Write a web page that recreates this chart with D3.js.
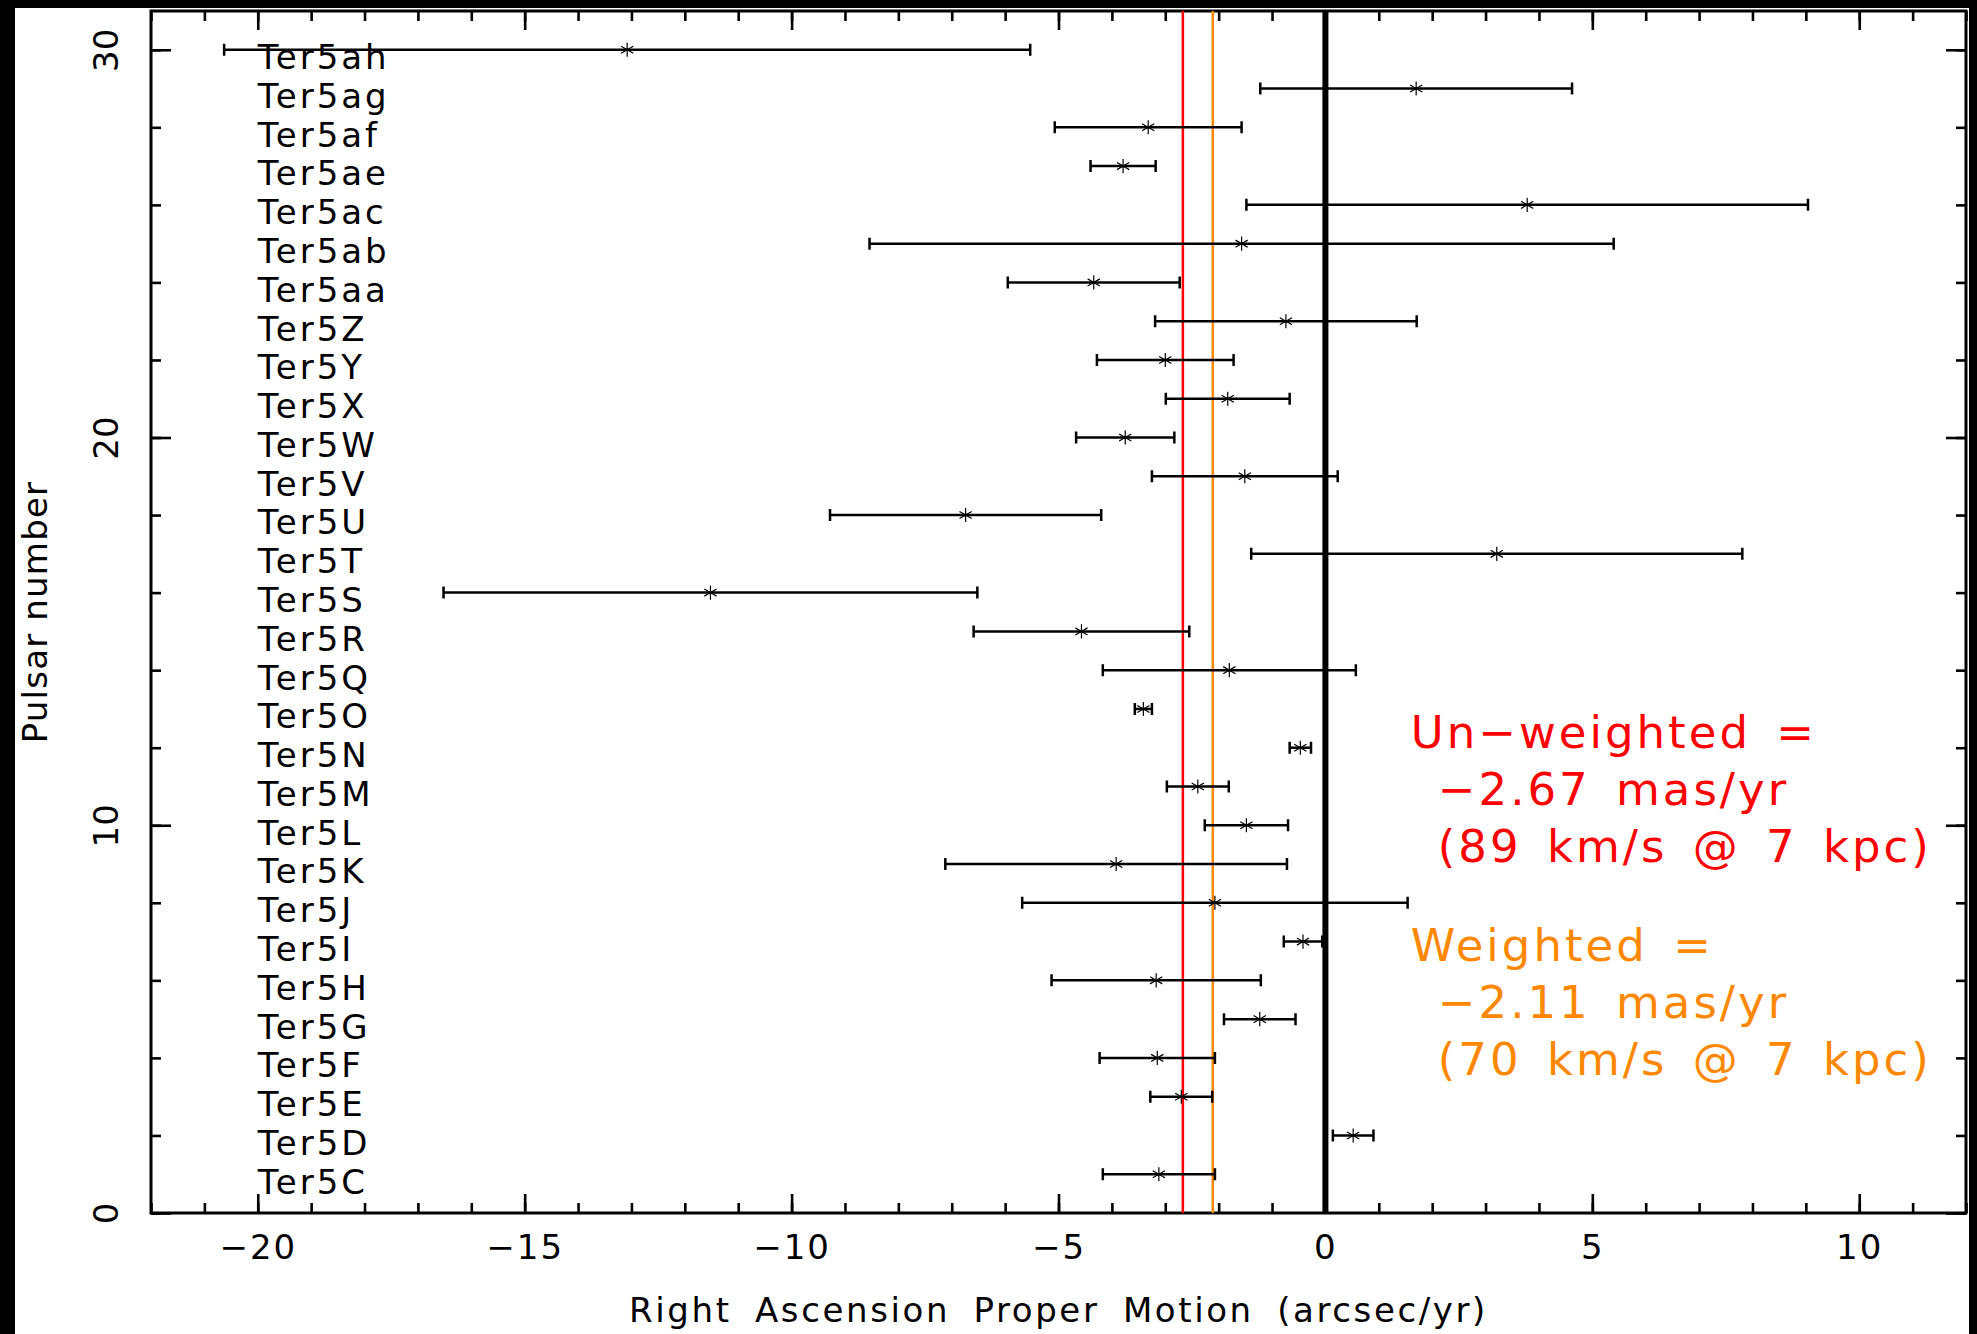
<!DOCTYPE html>
<html>
<head>
<meta charset="utf-8">
<script src="https://cdn.jsdelivr.net/npm/d3@7"></script>
<style>
  body { margin: 0; background: #000; }
  text { font-family: "DejaVu Sans", sans-serif; }
</style>
</head>
<body>
<svg width="1977" height="1334"></svg>
<script>
// pulsars, plotted at number 1..30 from the bottom
var pulsars = ["Ter5C", "Ter5D", "Ter5E", "Ter5F", "Ter5G", "Ter5H", "Ter5I", "Ter5J", "Ter5K", "Ter5L",
               "Ter5M", "Ter5N", "Ter5O", "Ter5Q", "Ter5R", "Ter5S", "Ter5T", "Ter5U", "Ter5V", "Ter5W",
               "Ter5X", "Ter5Y", "Ter5Z", "Ter5aa", "Ter5ab", "Ter5ac", "Ter5ae", "Ter5af", "Ter5ag", "Ter5ah"];
// right ascension proper motion and its 1-sigma error
var motion = [-3.12, 0.52, -2.70, -3.15, -1.23, -3.17, -0.42, -2.07, -3.92, -1.48,
              -2.39, -0.47, -3.41, -1.80, -4.57, -11.52, 3.21, -6.74, -1.51, -3.75,
              -1.83, -3.00, -0.74, -4.34, -1.57, 3.78, -3.79, -3.32, 1.70, -13.08];
var motionErr = [1.05, 0.38, 0.58, 1.08, 0.67, 1.96, 0.36, 3.61, 3.20, 0.78,
                 0.58, 0.20, 0.16, 2.37, 2.02, 5.00, 4.60, 2.54, 1.74, 0.92,
                 1.16, 1.28, 2.45, 1.61, 6.97, 5.26, 0.61, 1.75, 2.92, 7.55];

var xMajor = [-20, -15, -10, -5, 0, 5, 10];
var yMajor = [0, 10, 20, 30];

var unweighted = -2.67, weighted = -2.11;
var unweightedText = ["Un\u2212weighted =", "\u22122.67 mas/yr", "(89 km/s @ 7 kpc)"];
var weightedText = ["Weighted =", "\u22122.11 mas/yr", "(70 km/s @ 7 kpc)"];

var svg = d3.select("svg"),
    width = +svg.attr("width"),
    height = +svg.attr("height");
var margin = {top: 11, right: 11, bottom: 121, left: 151};

var x = d3.scaleLinear().domain([-22, 12]).range([margin.left, width - margin.right]);
var y = d3.scaleLinear().domain([0, 31]).range([height - margin.bottom, margin.top]);
var fmt = function(d) { return d < 0 ? "\u2212" + Math.abs(d) : "" + d; };

// black frame round a white page
svg.append("rect").attr("width", width).attr("height", height).attr("fill", "#000");
svg.append("rect").attr("x", 15).attr("y", 8).attr("width", width - 23).attr("height", height - 8).attr("fill", "#fff");

// axes: majors, minors, all four sides, ticks inward
function ticks(axis, vals, size, tx, ty) {
  var g = svg.append("g")
    .attr("transform", "translate(" + tx + "," + ty + ")")
    .call(axis.tickValues(vals).tickSize(size).tickPadding(22).tickFormat(""));
  g.select(".domain").remove();
  g.selectAll("line").attr("stroke", "#000").attr("stroke-width", 2.6);
  return g;
}
var x0 = margin.left, x1 = width - margin.right, y0 = height - margin.bottom, y1 = margin.top;
ticks(d3.axisBottom(x), d3.range(-22, 13), -10, 0, y0);
ticks(d3.axisTop(x), d3.range(-22, 13), -10, 0, y1);
ticks(d3.axisLeft(y), d3.range(0, 32, 2), -10, x0, 0);
ticks(d3.axisRight(y), d3.range(0, 32, 2), -10, x1, 0);
var xb = ticks(d3.axisBottom(x), xMajor, -19, 0, y0);
ticks(d3.axisTop(x), xMajor, -19, 0, y1);
var yl = ticks(d3.axisLeft(y), yMajor, -20, x0, 0);
ticks(d3.axisRight(y), yMajor, -20, x1, 0);

xb.selectAll("text").text(fmt)
  .attr("fill", "#000").attr("font-size", 34).attr("font-family", null)
  .style("letter-spacing", "2px");
yl.selectAll("text").text(fmt)
  .attr("fill", "#000").attr("font-size", 34).attr("font-family", null)
  .attr("x", 0).attr("dy", null).attr("text-anchor", "middle")
  .attr("transform", "translate(-33,0) rotate(-90)");

svg.append("rect")
  .attr("x", x0).attr("y", y1).attr("width", x1 - x0).attr("height", y0 - y1)
  .attr("fill", "none").attr("stroke", "#000").attr("stroke-width", 3);

// axis titles
svg.append("text")
  .attr("x", (x0 + x1) / 2).attr("y", height - 12)
  .attr("text-anchor", "middle").attr("font-size", 34)
  .style("letter-spacing", "2.6px").style("word-spacing", "10px")
  .text("Right Ascension Proper Motion (arcsec/yr)");
svg.append("text")
  .attr("transform", "translate(47," + (y0 + y1) / 2 + ") rotate(-90)")
  .attr("text-anchor", "middle").attr("font-size", 34)
  .style("letter-spacing", "1.2px")
  .text("Pulsar number");

// zero and mean lines
svg.append("line")
  .attr("x1", x(0)).attr("x2", x(0)).attr("y1", y0).attr("y2", y1)
  .attr("stroke", "#000").attr("stroke-width", 6);
svg.append("line")
  .attr("x1", x(unweighted)).attr("x2", x(unweighted)).attr("y1", y0).attr("y2", y1)
  .attr("stroke", "#ff0000").attr("stroke-width", 2.5);
svg.append("line")
  .attr("x1", x(weighted)).attr("x2", x(weighted)).attr("y1", y0).attr("y2", y1)
  .attr("stroke", "#ff8800").attr("stroke-width", 2.5);

// pulsar names
svg.append("g").selectAll("text")
  .data(pulsars).enter()
  .append("text")
    .attr("x", x(-20))
    .attr("y", (d, i) => y(i + 0.5))
    .attr("font-size", 34)
    .style("letter-spacing", "3px")
    .text(d => d);

// error bars with asterisks
var bars = svg.append("g").selectAll("g")
  .data(motion).enter()
  .append("g")
    .attr("transform", (d, i) => "translate(0," + y(i + 1) + ")");
bars.append("line")
  .attr("x1", (d, i) => x(d - motionErr[i]))
  .attr("x2", (d, i) => x(d + motionErr[i]))
  .attr("stroke", "#000").attr("stroke-width", 2.5);
bars.append("path")
  .attr("d", (d, i) => {
    var a = x(d - motionErr[i]), b = x(d + motionErr[i]);
    return "M" + a + ",-6V6M" + b + ",-6V6";
  })
  .attr("stroke", "#000").attr("stroke-width", 2.5);

var star = d3.symbolAsterisk || {
  draw: function(c, size) {
    var r = Math.sqrt(size) * 0.59436, t = r / 2, u = t * Math.sqrt(3);
    c.moveTo(0, r); c.lineTo(0, -r);
    c.moveTo(-u, -t); c.lineTo(u, t);
    c.moveTo(-u, t); c.lineTo(u, -t);
  }
};
bars.append("path")
  .attr("transform", d => "translate(" + x(d) + ",0)")
  .attr("d", d3.symbol(star, 140))
  .attr("fill", "none").attr("stroke", "#000").attr("stroke-width", 1.2);

// annotations
function note(lines, color, yTop) {
  svg.append("g").selectAll("text")
    .data(lines).enter()
    .append("text")
      .attr("x", (d, i) => x(1.6) + (i ? 27 : 0))
      .attr("y", (d, i) => y(yTop) + i * 57)
      .attr("fill", color)
      .attr("font-size", 45)
      .style("letter-spacing", "3px").style("word-spacing", "8px")
      .text(d => d);
}
note(unweightedText, "#ff0000", 12);
note(weightedText, "#ff8800", 6.5);
</script>
</body>
</html>
